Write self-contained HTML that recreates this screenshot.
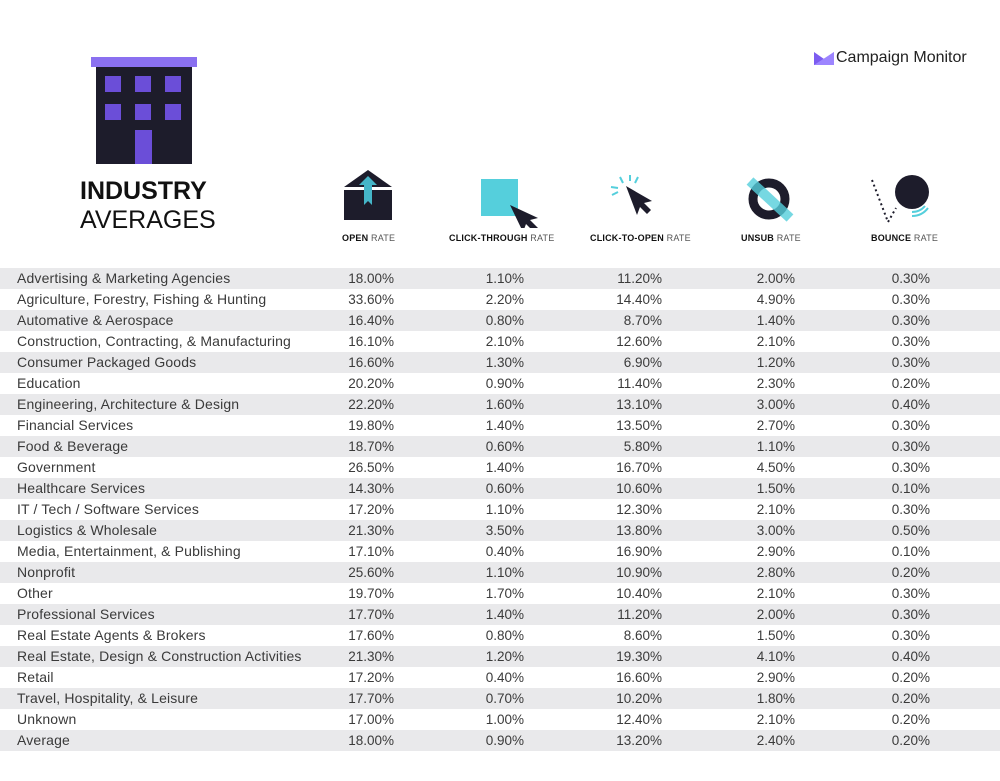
<!DOCTYPE html><html><head><style>
body{margin:0;width:1000px;height:781px;background:#fff;font-family:"Liberation Sans",sans-serif;position:relative;overflow:hidden;color:#3a3a3a}
.a{position:absolute}
.row{position:absolute;left:0;width:1000px;height:21px;font-size:13.5px;line-height:21px}
.row.g{background:#e9e9eb}
.row span{position:absolute;top:0}
.l{left:17px;font-size:14px;letter-spacing:.15px}
.v{text-align:right;width:100px}
.h{position:absolute;top:233px;font-size:9px;font-weight:bold;color:#111;white-space:nowrap;letter-spacing:.2px}
.h i{font-style:normal;font-weight:normal;color:#555}
</style></head><body>
<div class="a" style="left:91px;top:57px;width:106px;height:10px;background:#8a70f0"></div>
<div class="a" style="left:96px;top:67px;width:96px;height:97px;background:#1d1c2b"></div>
<div class="a" style="left:105px;top:76px;width:16px;height:16px;background:#6b4ed8;box-shadow:30px 0 #6b4ed8,60px 0 #6b4ed8,0 28px #6b4ed8,30px 28px #6b4ed8,60px 28px #6b4ed8"></div>
<div class="a" style="left:135px;top:130px;width:17px;height:34px;background:#6b4ed8"></div>
<div class="a" style="left:80px;top:177px;font-size:25px;font-weight:bold;color:#111">INDUSTRY</div>
<div class="a" style="left:80px;top:206px;font-size:25px;color:#111">AVERAGES</div>
<svg class="a" style="left:814px;top:52px" width="20" height="14"><path d="M0 0L10 7L20 0V13H0Z" fill="#7c5cf0"/><path d="M0 13L20 0V13Z" fill="#9d85ff"/></svg>
<div class="a" style="left:836px;top:49px;font-size:16px;color:#222">Campaign Monitor</div>
<svg class="a" style="left:340px;top:165px" width="60" height="60"><path d="M4 22L28 5L52 22Z" fill="#1d1c2b"/><rect x="4" y="25" width="48" height="30" fill="#1d1c2b"/><path d="M19 20L28 11L37 20H32V40L28 36L24 40V20Z" fill="#45b5c8"/></svg>
<svg class="a" style="left:480px;top:178px" width="65" height="50"><rect x="1" y="1" width="37" height="37" fill="#55cfdc"/><path d="M30 27L58 40L50 42L58 50L54 54L46 46L43 54Z" fill="#1d1c2b"/></svg>
<svg class="a" style="left:608px;top:175px" width="50" height="45"><path d="M18 11L44 26L36 28L43 35L39 39L32 32L29 40Z" fill="#1d1c2b"/><g stroke="#55cfdc" stroke-width="2"><path d="M12 2L15 8M22 0V6M30 2L27 8M3 12L10 13M4 20L10 17"/></g></svg>
<svg class="a" style="left:745px;top:175px" width="55" height="50"><circle cx="24" cy="24" r="16" fill="none" stroke="#1d1c2b" stroke-width="9"/><path d="M5 6L45 43" stroke="#55cfdc" stroke-width="10" opacity=".8"/></svg>
<svg class="a" style="left:868px;top:172px" width="65" height="55"><circle cx="44" cy="20" r="17" fill="#1d1c2b"/><path d="M4 8L20 50L28 36" stroke="#1d1c2b" stroke-width="2" stroke-dasharray="2 3" fill="none"/><path d="M44 40Q52 40 57 34M44 44Q54 44 60 36" stroke="#55cfdc" stroke-width="2" fill="none"/></svg>
<div class="h" style="left:342px">OPEN <i>RATE</i></div>
<div class="h" style="left:449px">CLICK-THROUGH <i>RATE</i></div>
<div class="h" style="left:590px">CLICK-TO-OPEN <i>RATE</i></div>
<div class="h" style="left:741px">UNSUB <i>RATE</i></div>
<div class="h" style="left:871px">BOUNCE <i>RATE</i></div>
<div id="t"></div>
<script>
var d=[["Advertising & Marketing Agencies","18.00%","1.10%","11.20%","2.00%","0.30%"],
["Agriculture, Forestry, Fishing & Hunting","33.60%","2.20%","14.40%","4.90%","0.30%"],
["Automative & Aerospace","16.40%","0.80%","8.70%","1.40%","0.30%"],
["Construction, Contracting, & Manufacturing","16.10%","2.10%","12.60%","2.10%","0.30%"],
["Consumer Packaged Goods","16.60%","1.30%","6.90%","1.20%","0.30%"],
["Education","20.20%","0.90%","11.40%","2.30%","0.20%"],
["Engineering, Architecture & Design","22.20%","1.60%","13.10%","3.00%","0.40%"],
["Financial Services","19.80%","1.40%","13.50%","2.70%","0.30%"],
["Food & Beverage","18.70%","0.60%","5.80%","1.10%","0.30%"],
["Government","26.50%","1.40%","16.70%","4.50%","0.30%"],
["Healthcare Services","14.30%","0.60%","10.60%","1.50%","0.10%"],
["IT / Tech / Software Services","17.20%","1.10%","12.30%","2.10%","0.30%"],
["Logistics & Wholesale","21.30%","3.50%","13.80%","3.00%","0.50%"],
["Media, Entertainment, & Publishing","17.10%","0.40%","16.90%","2.90%","0.10%"],
["Nonprofit","25.60%","1.10%","10.90%","2.80%","0.20%"],
["Other","19.70%","1.70%","10.40%","2.10%","0.30%"],
["Professional Services","17.70%","1.40%","11.20%","2.00%","0.30%"],
["Real Estate Agents & Brokers","17.60%","0.80%","8.60%","1.50%","0.30%"],
["Real Estate, Design & Construction Activities","21.30%","1.20%","19.30%","4.10%","0.40%"],
["Retail","17.20%","0.40%","16.60%","2.90%","0.20%"],
["Travel, Hospitality, & Leisure","17.70%","0.70%","10.20%","1.80%","0.20%"],
["Unknown","17.00%","1.00%","12.40%","2.10%","0.20%"],
["Average","18.00%","0.90%","13.20%","2.40%","0.20%"]];
var R=[394,524,662,795,930],h="";
d.forEach(function(r,i){h+='<div class="row'+(i%2?'':' g')+'" style="top:'+(268+21*i)+'px"><span class="l">'+r[0].replace(/&/g,"&amp;")+'</span>';
for(var j=0;j<5;j++)h+='<span class="v" style="left:'+(R[j]-100)+'px">'+r[j+1]+'</span>';h+='</div>';});
document.getElementById("t").innerHTML=h;
</script>
</body></html>
